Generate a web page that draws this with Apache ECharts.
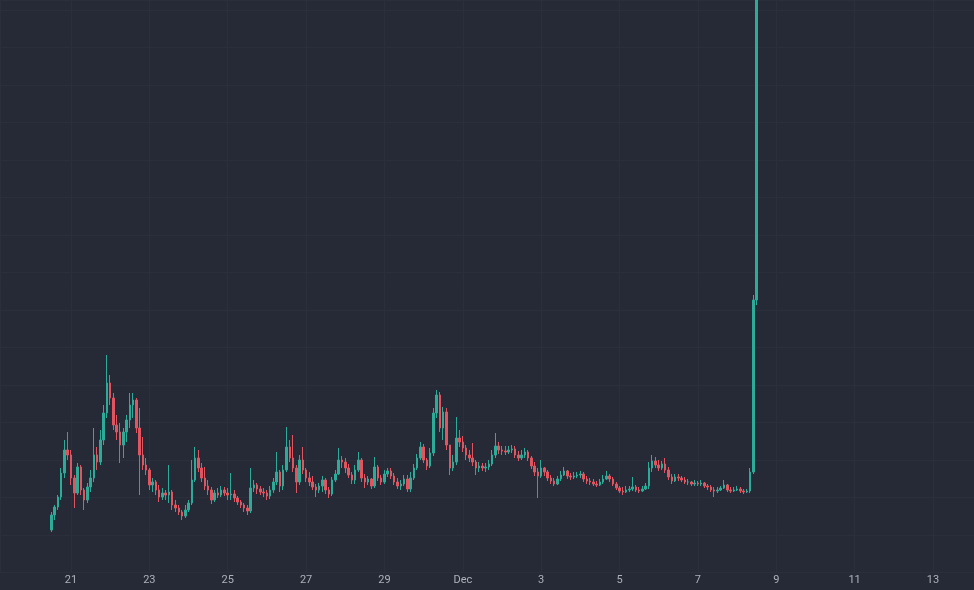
<!DOCTYPE html>
<html>
<head>
<meta charset="utf-8">
<script src="https://cdn.jsdelivr.net/npm/echarts@6/dist/echarts.min.js"></script>
<style>
html,body{margin:0;padding:0;background:#262a36;}
#chart{width:974px;height:590px;}
</style>
</head>
<body>
<div id="chart"></div>
<script>
// 2-hour candles starting Nov 20, 12:00
const startTime = Date.UTC(2023, 10, 20, 12);
const stepHours = 2;
const firstOpen = 17.0;

const closes = [
23.0,26.2,30.2,39.8,49.0,47.0,37.8,31.8,42.2,33.0,
29.0,34.2,37.8,47.0,44.2,53.0,63.8,75.8,69.8,59.0,
56.2,51.0,56.2,61.0,67.0,69.0,57.8,47.0,43.0,41.0,
35.0,36.2,33.0,30.2,31.8,31.0,32.2,27.0,25.8,24.2,
22.6,25.0,27.8,37.0,45.8,41.8,37.8,34.6,33.0,29.0,
31.8,31.0,33.0,31.8,31.0,31.4,29.8,28.2,27.0,25.8,
24.6,33.8,35.0,33.4,32.2,31.8,30.6,33.0,36.2,40.2,
34.6,41.0,50.2,45.8,41.8,36.2,45.0,41.0,37.8,36.2,
34.2,33.0,34.6,37.0,33.0,31.4,37.0,39.4,45.0,44.2,
41.8,39.0,37.0,41.0,45.0,37.8,36.2,37.4,34.6,42.2,
37.8,36.2,39.4,40.6,38.6,36.2,34.6,35.4,37.4,33.4,
37.8,41.8,45.8,50.2,45.0,42.6,47.8,63.8,71.0,57.8,
64.2,51.0,41.8,44.2,53.8,52.2,49.8,47.0,45.8,44.2,
41.8,42.6,41.8,42.2,43.4,47.0,50.6,49.0,48.6,48.2,
49.0,49.4,47.0,45.8,47.0,48.2,45.8,42.6,40.2,38.6,
41.8,40.2,37.8,36.6,35.4,37.4,39.0,40.6,38.6,38.2,
38.6,39.0,39.4,37.4,36.6,36.2,35.4,35.0,36.2,37.4,
38.6,37.4,35.4,33.8,32.6,32.2,33.0,33.4,34.2,33.0,
32.6,33.4,34.6,41.8,44.6,43.0,41.8,43.4,41.0,38.2,
36.6,38.2,37.8,37.0,36.2,36.2,35.4,35.8,35.4,35.8,
34.6,34.2,33.0,32.6,33.0,33.8,35.0,33.0,32.6,33.0,
33.4,32.6,32.2,32.6,40.2,109.0,253.0
];

const highs = [
24.2,27.0,31.0,41.8,53.0,56.2,49.0,39.0,43.8,43.0,
33.8,35.8,41.0,57.8,50.2,57.0,67.0,87.0,79.0,71.8,
63.0,59.8,57.8,63.0,71.8,71.8,69.8,65.8,54.2,45.8,
41.8,37.8,37.0,35.0,33.8,33.0,43.0,33.0,29.0,27.0,
25.0,27.0,29.0,45.0,50.2,49.0,43.8,42.2,37.0,34.2,
33.0,33.8,34.6,34.2,33.8,39.8,33.0,30.6,29.0,27.8,
27.0,41.8,37.0,35.8,34.6,33.8,33.0,34.6,37.8,48.2,
41.0,43.0,58.2,53.0,55.0,43.0,47.0,50.2,41.8,40.2,
38.6,35.4,35.8,38.6,37.8,34.2,38.2,41.0,49.8,46.6,
45.8,43.4,40.2,43.0,48.2,45.8,39.4,38.6,37.8,46.2,
43.0,39.0,41.0,41.8,41.8,39.8,37.8,37.0,39.0,39.0,
40.2,43.4,47.4,52.2,51.4,45.8,49.8,65.8,73.0,72.2,
66.2,65.8,51.0,47.0,62.2,57.0,54.6,51.0,49.0,51.8,
45.0,44.2,43.8,43.8,45.0,49.0,55.8,52.2,50.6,50.6,
50.6,51.0,50.6,48.6,49.0,49.8,49.0,46.6,44.2,41.8,
45.0,42.2,41.0,39.0,37.8,38.6,40.6,42.2,41.0,39.8,
40.2,40.2,40.6,40.2,38.6,37.8,37.4,36.6,37.4,39.0,
40.6,39.4,38.2,36.2,34.6,34.2,34.6,34.6,38.2,35.0,
34.2,34.6,35.8,44.2,47.0,46.2,45.0,44.6,45.8,42.2,
39.4,39.4,39.4,38.6,38.2,37.4,36.6,37.0,36.6,37.0,
36.2,35.4,35.0,34.2,34.2,34.6,37.0,35.4,34.2,34.2,
34.6,34.2,33.4,33.4,41.8,111.0,261.0
];

const lows = [
16.2,21.0,25.0,29.0,37.8,45.0,35.0,25.8,31.0,31.0,
25.0,27.8,32.2,36.2,41.0,43.0,51.0,61.8,67.0,57.0,
53.0,43.8,45.8,52.2,57.8,61.8,55.8,31.0,41.0,39.0,
33.0,32.2,31.0,28.2,29.0,29.0,27.8,25.0,24.2,23.0,
21.0,21.8,24.2,27.0,36.2,40.2,36.2,33.0,31.0,27.4,
28.2,29.8,30.2,30.6,29.0,29.0,28.2,27.0,25.8,24.2,
23.0,23.8,32.2,31.4,31.0,30.2,29.0,29.4,31.8,35.0,
32.2,33.0,40.2,44.2,40.2,31.8,35.0,39.4,36.2,34.6,
33.0,30.2,31.8,32.2,31.4,29.8,30.6,36.2,39.0,41.8,
39.8,37.8,35.4,35.4,40.2,36.2,33.8,35.0,33.4,33.8,
36.6,35.0,35.4,38.2,37.4,35.0,33.4,33.0,34.6,32.2,
32.2,37.0,41.0,45.0,43.8,41.0,41.8,46.6,61.8,56.2,
53.0,49.0,39.0,40.6,43.0,50.2,48.2,45.0,44.2,42.6,
39.0,40.2,40.6,40.2,41.0,42.6,45.8,47.4,47.0,47.0,
47.4,47.8,45.8,44.6,45.0,45.8,44.6,41.4,38.6,29.8,
37.8,38.6,36.6,35.4,34.6,35.0,36.6,38.6,37.4,37.0,
37.4,37.8,37.8,36.2,35.4,35.0,34.6,34.2,34.6,35.4,
37.0,36.2,34.6,33.0,31.8,31.0,31.8,32.2,32.6,32.2,
31.8,32.2,33.0,33.4,40.2,41.8,40.6,41.0,39.8,37.0,
35.4,36.2,36.6,36.2,35.4,35.0,34.6,34.6,34.6,34.6,
33.8,33.0,32.2,30.2,31.8,32.6,33.4,32.2,31.8,32.2,
32.6,31.8,31.4,31.8,31.8,39.4,107.0
];

const monthNames = ['Jan','Feb','Mar','Apr','May','Jun','Jul','Aug','Sep','Oct','Nov','Dec'];
const xMin = Date.UTC(2023, 10, 19, 4, 30);
const xMax = Date.UTC(2023, 11, 14, 1, 8);
const DAY = 86400000;

const candles = closes.map((c, i) => {
  const t = startTime + i * stepHours * 3600000;
  const o = i === 0 ? firstOpen : closes[i - 1];
  return [t, o, c, lows[i], highs[i]];
});

const chart = echarts.init(document.getElementById('chart'), null, {renderer: 'canvas'});
chart.setOption({
  backgroundColor: '#262a36',
  animation: false,
  useUTC: true,
  grid: {left: 0, right: 0, top: 0, bottom: 17.5, containLabel: false},
  xAxis: {
    type: 'time',
    min: xMin,
    max: xMax,
    minInterval: 2 * DAY,
    maxInterval: 2 * DAY,
    axisLine: {show: false},
    axisTick: {show: false},
    splitLine: {show: true, lineStyle: {color: '#2b2f3b', width: 1}},
    axisLabel: {
      color: '#aeb1b8',
      fontSize: 11,
      fontFamily: 'Roboto, sans-serif',
      margin: 2,
      formatter: function (val) {
        const d = new Date(val);
        return d.getUTCDate() === 1 ? monthNames[d.getUTCMonth()] : String(d.getUTCDate());
      }
    }
  },
  yAxis: {
    type: 'value',
    min: 0,
    max: 229,
    interval: 15,
    position: 'right',
    axisLabel: {show: false},
    axisLine: {show: false},
    axisTick: {show: false},
    splitLine: {show: true, lineStyle: {color: '#2b2f3b', width: 1}}
  },
  series: [{
    type: 'candlestick',
    data: candles,
    encode: {x: 0, y: [1, 2, 3, 4]},
    barWidth: 2,
    clip: true,
    itemStyle: {
      color: '#2bab98',
      color0: '#e0555f',
      borderColor: '#2bab98',
      borderColor0: '#e0555f',
      borderWidth: 1
    }
  }]
});
</script>
</body>
</html>
